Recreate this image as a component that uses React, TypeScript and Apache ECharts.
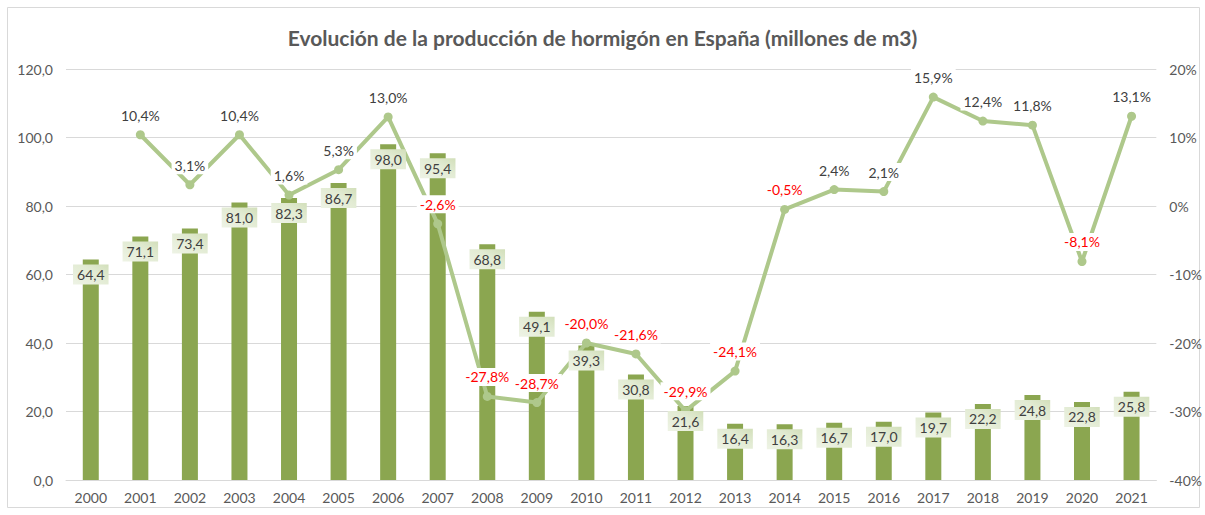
import React, { useEffect, useRef } from "react";
import * as echarts from "echarts";

const years = ["2000","2001","2002","2003","2004","2005","2006","2007","2008","2009","2010","2011","2012","2013","2014","2015","2016","2017","2018","2019","2020","2021"];
const production = [64.4, 71.1, 73.4, 81.0, 82.3, 86.7, 98.0, 95.4, 68.8, 49.1, 39.3, 30.8, 21.6, 16.4, 16.3, 16.7, 17.0, 19.7, 22.2, 24.8, 22.8, 25.8];
const growth: (number | null)[] = [null, 10.4, 3.1, 10.4, 1.6, 5.3, 13.0, -2.6, -27.8, -28.7, -20.0, -21.6, -29.9, -24.1, -0.5, 2.4, 2.1, 15.9, 12.4, 11.8, -8.1, 13.1];

const FONT = "Lato, 'Open Sans', sans-serif";
const comma = (v: number, d: number) => v.toFixed(d).replace(".", ",");

export default function App() {
  const ref = useRef<HTMLDivElement>(null);
  useEffect(() => {
    if (!ref.current) return;
    const chart = echarts.init(ref.current, undefined, { renderer: "svg" });
    const lineData = growth.map((v) =>
      v === null ? null : { value: v, label: { color: v < 0 ? "#FF0000" : "#404040" } }
    );
    chart.setOption({
      animation: false,
      textStyle: { fontFamily: FONT },
      title: {
        text: "Evolución de la producción de hormigón en España (millones de m3)",
        left: "center",
        top: 22,
        textStyle: { fontFamily: FONT, fontSize: 21, fontWeight: "bold", color: "#595959" },
      },
      graphic: [
        {
          type: "rect",
          shape: { x: 7.5, y: 7.5, width: 1192, height: 500 },
          style: { fill: "none", stroke: "#D9D9D9", lineWidth: 1 },
          silent: true,
        },
      ],
      grid: { left: 66, right: 47, top: 69, bottom: 35 },
      xAxis: {
        type: "category",
        data: years,
        axisLine: { lineStyle: { color: "#D9D9D9" } },
        axisTick: { show: false },
        axisLabel: { color: "#595959", fontSize: 14, margin: 10, fontFamily: FONT },
      },
      yAxis: [
        {
          type: "value",
          min: 0,
          max: 120,
          interval: 20,
          axisLine: { show: false },
          axisTick: { show: false },
          splitLine: { lineStyle: { color: "#D9D9D9", width: 1 } },
          axisLabel: { color: "#595959", fontSize: 14, margin: 13, fontFamily: FONT, formatter: (v: number) => comma(v, 1) },
        },
        {
          type: "value",
          min: -40,
          max: 20,
          interval: 10,
          axisLine: { show: false },
          axisTick: { show: false },
          splitLine: { show: false },
          axisLabel: { color: "#595959", fontSize: 14, margin: 13, fontFamily: FONT, formatter: (v: number) => v + "%" },
        },
      ],
      series: [
        {
          type: "bar",
          name: "Producción",
          data: production,
          barWidth: 16,
          barGap: "-100%",
          itemStyle: { color: "#8BA650" },
          z: 2,
        },
        {
          type: "bar",
          name: "Etiquetas",
          data: production,
          barWidth: 16,
          barGap: "-100%",
          itemStyle: { color: "rgba(0,0,0,0)" },
          silent: true,
          z: 10,
          label: {
            show: true,
            position: "insideTop",
            distance: 5,
            color: "#404040",
            fontSize: 14,
            fontFamily: FONT,
            padding: [3, 4, 3, 4],
            backgroundColor: {
              type: "linear",
              x: 0, y: 1, x2: 1, y2: 0,
              colorStops: [
                { offset: 0, color: "#EEF3E5" },
                { offset: 0.6, color: "#E2EBD3" },
                { offset: 1, color: "#D2DFBA" },
              ],
            },
            formatter: (p: any) => comma(p.value, 1),
          },
        },
        {
          type: "line",
          yAxisIndex: 1,
          data: lineData,
          connectNulls: false,
          symbol: "circle",
          symbolSize: 9,
          lineStyle: { color: "#AEC88B", width: 4 },
          itemStyle: { color: "#AEC88B" },
          z: 5,
          label: {
            show: true,
            position: "top",
            distance: 6,
            fontSize: 14,
            fontFamily: FONT,
            backgroundColor: "#FFFFFF",
            padding: [2, 3, 2, 3],
            formatter: (p: any) => comma(p.value, 1) + "%",
          },
        },
      ],
    });
    return () => chart.dispose();
  }, []);
  return (
    <div
      ref={ref}
      style={{ position: "absolute", left: 0, top: 0, width: 1205, height: 515, background: "#fff" }}
    />
  );
}
